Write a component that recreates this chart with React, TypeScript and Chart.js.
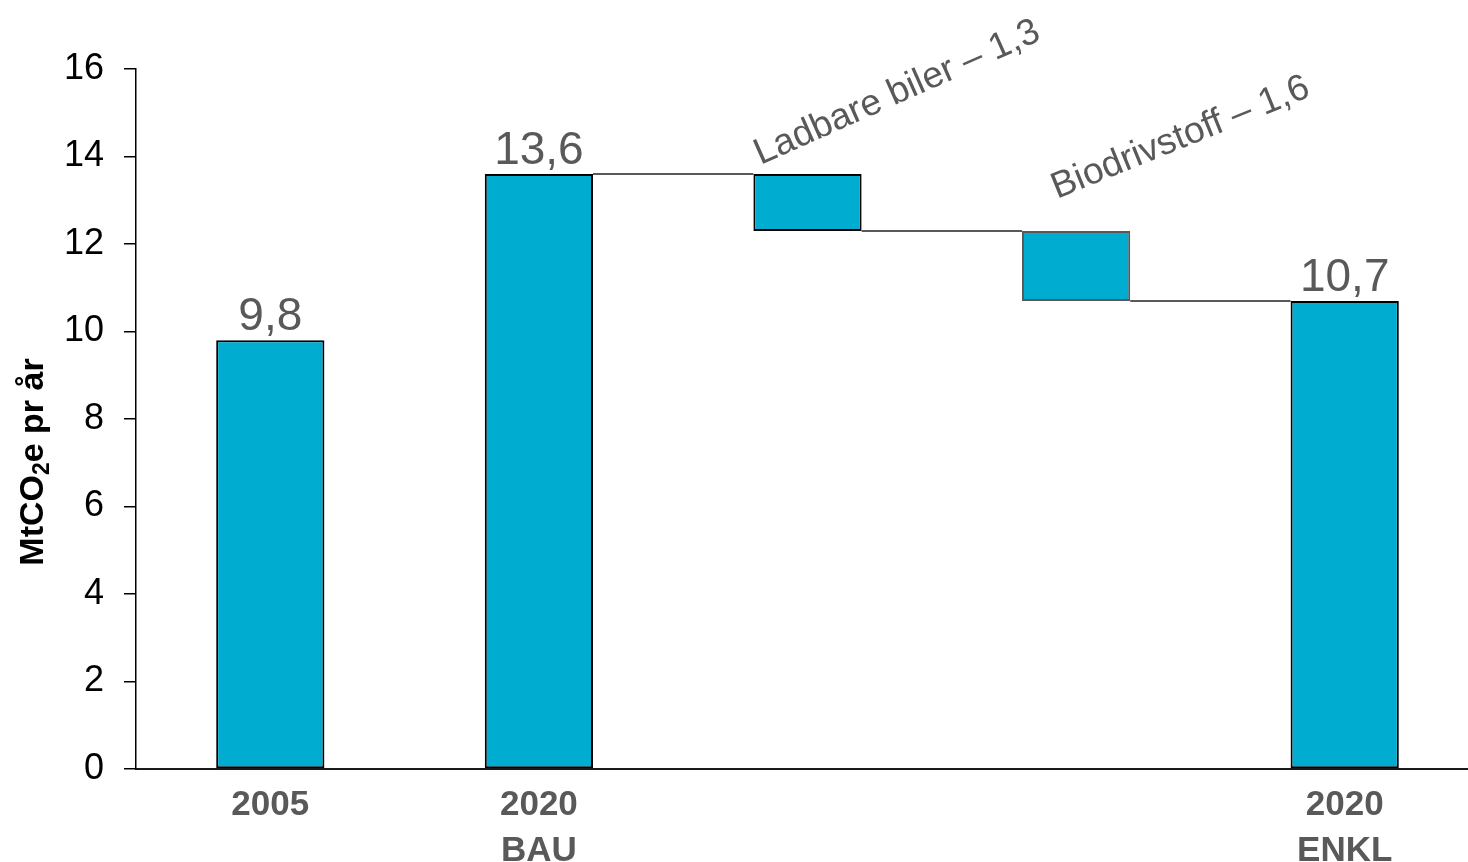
import React, { useEffect, useRef } from "react";
import { Chart, registerables } from "chart.js";

Chart.register(...registerables);

// ---- data ----
const categories: (string | string[])[] = ["2005", ["2020", "BAU"], "", "", ["2020", "ENKL"]];
const barStart = [0, 0, 12.3, 10.7, 0];
const barEnd = [9.8, 13.6, 13.6, 12.3, 10.7];
const valueLabels = ["9,8", "13,6", "", "", "10,7"];
const stepLabels = ["", "", "Ladbare biler – 1,3", "Biodrivstoff – 1,6", ""];
const connectFrom = [1, 2, 3];
const yMin = 0;
const yMax = 16;
const yStep = 2;

// ---- style ----
const FONT = '"Liberation Sans", Arial, sans-serif';
const BAR_FILL = "#00ADD0";
const barBorders = ["#000000", "#000000", "#000000", "#595959", "#000000"];
const GRAY = "#595959";
const stepLabelStyle = [
  null,
  null,
  { dx: 7, dy: -9, angle: -24 },
  { dx: 35, dy: -32, angle: -22 },
  null,
];

const overlayPlugin = {
  id: "waterfallOverlay",
  afterDatasetsDraw(chart: any) {
    const ctx = chart.ctx as CanvasRenderingContext2D;
    const meta = chart.getDatasetMeta(0);
    const els = meta.data as any[];
    const rect = (i: number) => {
      const el = els[i];
      const w = el.width;
      return {
        left: el.x - w / 2,
        right: el.x + w / 2,
        top: Math.min(el.y, el.base),
        cx: el.x,
      };
    };
    // connectors
    ctx.save();
    ctx.strokeStyle = GRAY;
    ctx.lineWidth = 2;
    connectFrom.forEach((i) => {
      const a = rect(i);
      const b = rect(i + 1);
      const y = chart.scales.y.getPixelForValue(barEnd[i + 1]);
      ctx.beginPath();
      ctx.moveTo(a.right, y);
      ctx.lineTo(b.left, y);
      ctx.stroke();
    });
    ctx.restore();

    // value labels
    ctx.save();
    ctx.fillStyle = GRAY;
    ctx.font = `46px ${FONT}`;
    ctx.textAlign = "center";
    ctx.textBaseline = "alphabetic";
    valueLabels.forEach((t, i) => {
      if (!t) return;
      const r = rect(i);
      ctx.fillText(t, r.cx, r.top - 10);
    });
    ctx.restore();

    // rotated step labels
    stepLabels.forEach((t, i) => {
      const st = stepLabelStyle[i];
      if (!t || !st) return;
      const r = rect(i);
      ctx.save();
      ctx.fillStyle = GRAY;
      ctx.font = `37px ${FONT}`;
      ctx.textAlign = "left";
      ctx.textBaseline = "alphabetic";
      ctx.translate(r.left + st.dx, r.top + st.dy);
      ctx.rotate((st.angle * Math.PI) / 180);
      ctx.fillText(t, 0, 0);
      ctx.restore();
    });
  },
  afterDraw(chart: any) {
    // y-axis title with subscript
    const ctx = chart.ctx as CanvasRenderingContext2D;
    const parts = [
      { t: "MtCO", size: 34, off: 0 },
      { t: "2", size: 23, off: 6 },
      { t: "e pr år", size: 34, off: 0 },
    ];
    ctx.save();
    ctx.fillStyle = "#000";
    ctx.textBaseline = "alphabetic";
    ctx.textAlign = "left";
    let total = 0;
    parts.forEach((p) => {
      ctx.font = `bold ${p.size}px ${FONT}`;
      total += ctx.measureText(p.t).width;
    });
    ctx.translate(43, 462);
    ctx.rotate(-Math.PI / 2);
    let x = -total / 2;
    parts.forEach((p) => {
      ctx.font = `bold ${p.size}px ${FONT}`;
      ctx.fillText(p.t, x, p.off);
      x += ctx.measureText(p.t).width;
    });
    ctx.restore();
  },
};

export default function App() {
  const ref = useRef<HTMLCanvasElement | null>(null);

  useEffect(() => {
    if (!ref.current) return;
    const chart = new Chart(ref.current, {
      type: "bar",
      data: {
        labels: categories as any,
        datasets: [
          {
            data: barStart.map((s, i) => [s, barEnd[i]]) as any,
            backgroundColor: BAR_FILL,
            borderColor: barBorders,
            borderWidth: 2,
            borderSkipped: false,
            barPercentage: 0.403,
            categoryPercentage: 1,
          },
        ],
      },
      options: {
        animation: false,
        responsive: true,
        maintainAspectRatio: false,
        layout: { padding: { top: 69, left: 0, right: 0, bottom: 0 } },
        plugins: {
          legend: { display: false },
          tooltip: { enabled: false },
          title: { display: false },
        },
        scales: {
          x: {
            grid: { display: false, drawTicks: false },
            border: { display: true, color: "#1a1a1a", width: 2 },
            ticks: {
              color: GRAY,
              font: { family: FONT, size: 35, weight: "bold", lineHeight: 1.3 },
              padding: 14,
              maxRotation: 0,
              autoSkip: false,
            },
            afterFit: (s: any) => {
              s.height = 93;
            },
          },
          y: {
            min: yMin,
            max: yMax,
            ticks: {
              stepSize: yStep,
              color: "#000",
              font: { family: FONT, size: 36 },
              padding: 20,
            },
            grid: {
              drawOnChartArea: false,
              drawTicks: true,
              tickLength: 12,
              color: "#000",
              lineWidth: 1.5,
            },
            border: { display: true, color: "#000", width: 1.5 },
            afterFit: (s: any) => {
              s.width = 136;
            },
          },
        },
      },
      plugins: [overlayPlugin],
    });
    return () => chart.destroy();
  }, []);

  return (
    <div
      style={{
        position: "fixed",
        left: 0,
        top: 0,
        width: 1468,
        height: 862,
        overflow: "hidden",
        background: "#fff",
      }}
    >
      <div style={{ position: "relative", width: 1479, height: 862 }}>
        <canvas ref={ref} />
      </div>
    </div>
  );
}
